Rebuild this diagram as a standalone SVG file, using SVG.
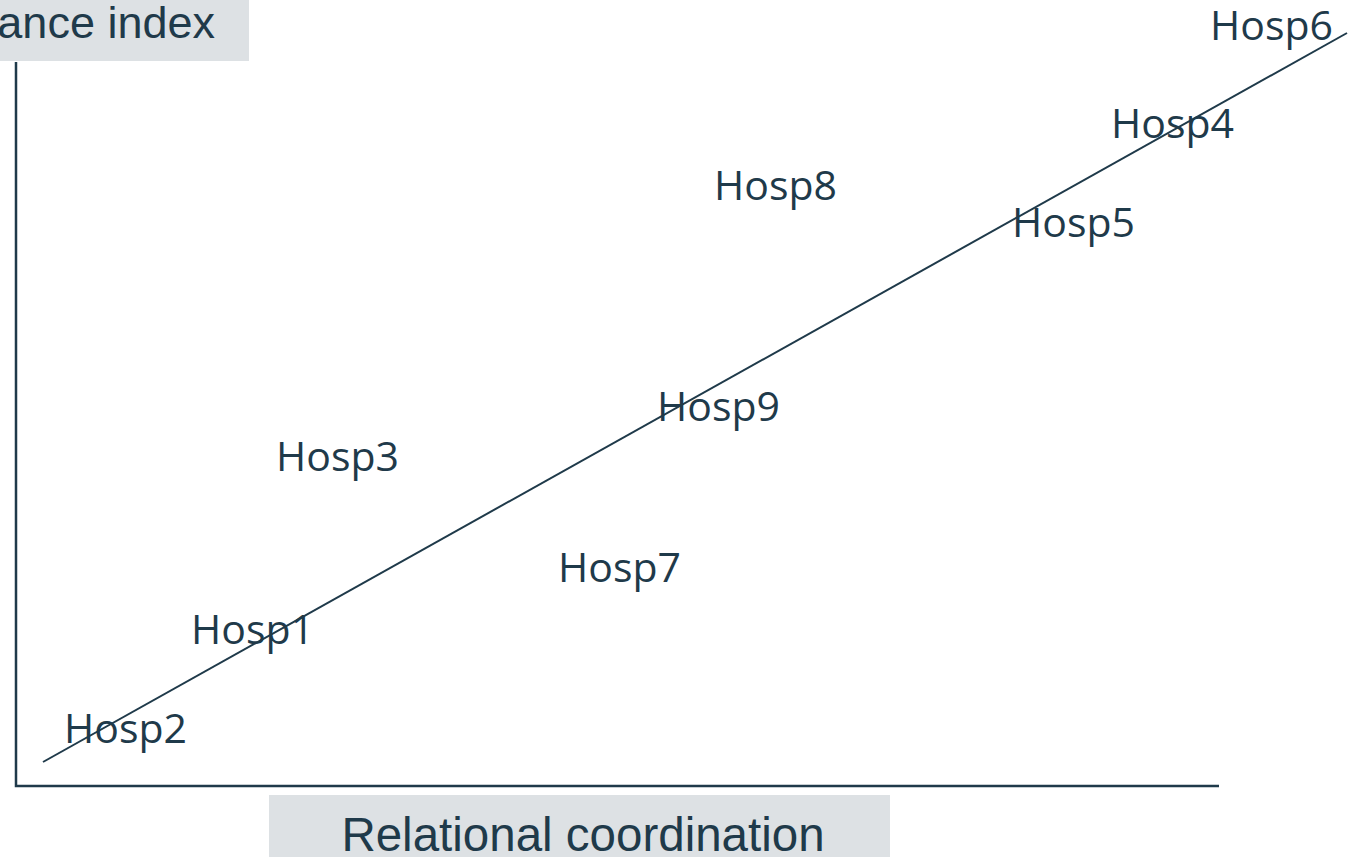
<svg xmlns="http://www.w3.org/2000/svg" width="1360" height="857" viewBox="0 0 1360 857">
<style>
.lbl{font-family:"Open Sans","Noto Sans",sans-serif;font-size:41px;fill:#1f3a4a}
.ax{font-family:"Liberation Sans",Arial,sans-serif;font-size:45px;fill:#1f3a4a}
.axb{font-family:"Liberation Sans",Arial,sans-serif;font-size:47.5px;fill:#1f3a4a}
.box{fill:#dde1e4}
.ln{stroke:#1f3a4a;fill:none}
</style>
<rect width="1360" height="857" fill="#ffffff"/>
<g id="y-axis-title">
<rect class="box" x="0" y="0" width="249" height="61"/>
<text class="ax" x="215" y="38" text-anchor="end">ance index</text>
</g>
<g id="x-axis-title">
<rect class="box" x="269" y="795" width="621" height="62"/>
<text class="axb" x="583" y="851" text-anchor="middle">Relational coordination</text>
</g>
<g id="connectors">
<polyline class="ln" stroke-width="2.5" points="16,62 16,786 1219,786"/>
<line class="ln" stroke-width="2" x1="43" y1="762" x2="1347" y2="33"/>
</g>
<g id="hosp6"><text class="lbl" x="1210" y="40">Hosp6</text></g>
<g id="hosp4"><text class="lbl" x="1111" y="138">Hosp4</text></g>
<g id="hosp8"><text class="lbl" x="714" y="200">Hosp8</text></g>
<g id="hosp5"><text class="lbl" x="1012" y="237">Hosp5</text></g>
<g id="hosp9"><text class="lbl" x="657" y="421">Hosp9</text></g>
<g id="hosp3"><text class="lbl" x="276" y="471">Hosp3</text></g>
<g id="hosp7"><text class="lbl" x="558" y="582">Hosp7</text></g>
<g id="hosp1"><text class="lbl" x="191" y="644">Hosp1</text></g>
<g id="hosp2"><text class="lbl" x="64" y="743">Hosp2</text></g>
</svg>
